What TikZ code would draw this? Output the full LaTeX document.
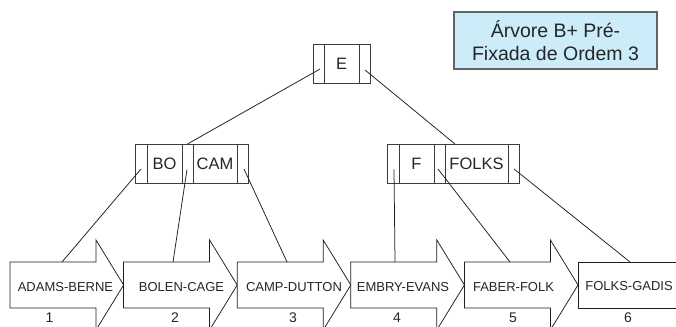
\documentclass[tikz,border=0pt]{standalone}
\usepackage{fontspec}
\setmainfont{Liberation Sans}
\usetikzlibrary{calc}
\definecolor{boxgray}{RGB}{60,60,60}
\definecolor{linegray}{RGB}{30,30,30}
\definecolor{titlefill}{RGB}{204,236,249}
\definecolor{titleborder}{RGB}{100,100,100}
\tikzset{
  cell/.style={draw=boxgray, line width=0.9pt, minimum height=39pt, inner sep=0pt, outer sep=0pt,
    font=\fontsize{16.5}{18}\selectfont, text=black!85},
  link/.style={draw=linegray, line width=0.75pt},
  leafshape/.style={draw=linegray, line width=0.75pt, fill=white},
  leaftext/.style={anchor=base, inner sep=0pt, font=\fontsize{13}{15}\selectfont, text=black!85},
  numtext/.style={anchor=base, inner sep=0pt, font=\fontsize{14}{16}\selectfont, text=black!85},
  titlebox/.style={draw=titleborder, line width=1.1pt, fill=titlefill, minimum width=203pt,
    minimum height=57pt, inner sep=0pt, align=center, font=\fontsize{19.5}{23}\selectfont, text=black!85}
}
\begin{document}
\begin{tikzpicture}[x=1pt,y=1pt]
\useasboundingbox (0,0) rectangle (676,326);
\fill[white] (0,0) rectangle (676,326);

% title
\node[titlebox] (title) at (555.5,285.5) {Árvore B+ Pré-\\Fixada de Ordem 3};

% root node
\node[cell, minimum width=11pt] (rp1) at (318.5,262.5) {};
\node[cell, minimum width=35pt] (rk)  at (341.5,262.5) {\raisebox{-2pt}{E}};
\node[cell, minimum width=11pt] (rp2) at (364.5,262.5) {};

% left internal node
\node[cell, minimum width=12pt] (lp1) at (141,162.5) {};
\node[cell, minimum width=35pt] (lk1) at (164.5,162.5) {BO};
\node[cell, minimum width=11pt] (lp2) at (187.5,162.5) {};
\node[cell, minimum width=44pt] (lk2) at (215,162.5) {CAM};
\node[cell, minimum width=11pt] (lp3) at (242.5,162.5) {};

% right internal node
\node[cell, minimum width=12pt] (rq1) at (393,162.5) {};
\node[cell, minimum width=35pt] (rf1) at (416.5,162.5) {F};
\node[cell, minimum width=11pt] (rq2) at (439.5,162.5) {};
\node[cell, minimum width=63pt] (rf2) at (476.5,162.5) {FOLKS};
\node[cell, minimum width=11pt] (rq3) at (513.5,162.5) {};

% leaves (arrows)
\foreach \i/\xo in {1/10,2/123.6,3/237.2,4/350.8,5/464.4}{
  \draw[leafshape] (\xo,64) -- ++(86,0) -- ++(0,22) -- ++(27.6,-45) -- ++(-27.6,-45)
     -- ++(0,22) -- ++(-86,0) -- cycle;
}
\draw[leafshape] (578,64) rectangle (677,18);

\node[leaftext] (l1) at (65.5,34.3) {ADAMS-BERNE};
\node[leaftext] (l2) at (181.5,34.3) {BOLEN-CAGE};
\node[leaftext] (l3) at (294,34.3) {CAMP-DUTTON};
\node[leaftext] (l4) at (403,34.3) {EMBRY-EVANS};
\node[leaftext] (l5) at (513.5,34.3) {FABER-FOLK};
\node[leaftext] (l6) at (629,35) {FOLKS-GADIS};

\coordinate (t1) at (62,64);
\coordinate (t2) at (173,64);
\coordinate (t3) at (287,64);
\coordinate (t4) at (395,64);
\coordinate (t5) at (510,64);
\coordinate (t6) at (630,64);

\node[numtext] (n1) at (49.5,3.5) {1};
\node[numtext] (n2) at (175,3.5) {2};
\node[numtext] (n3) at (293,3.5) {3};
\node[numtext] (n4) at (397,3.5) {4};
\node[numtext] (n5) at (513,3.5) {5};
\node[numtext] (n6) at (628,3.5) {6};

% connectors
\draw[link] ($(rp1.center)+(1.5,-5.5)$) -- (lp2.north);
\draw[link] ($(rp2.center)+(0.5,-6.5)$) -- ($(rf2.north west)+(10,0)$);

\draw[link] ($(lp1.center)+(0,-5.5)$) -- (t1);
\draw[link] ($(lp2.center)+(-0.5,-6)$) -- (t2);
\draw[link] ($(lp3.center)+(1.5,-5.5)$) -- (t3);

\draw[link] ($(rq1.center)+(1,-6)$) -- (t4);
\draw[link] ($(rq2.center)+(-1.5,-5.5)$) -- (t5);
\draw[link] ($(rq3.center)+(0.5,-5.5)$) -- (t6);
\end{tikzpicture}
\end{document}
